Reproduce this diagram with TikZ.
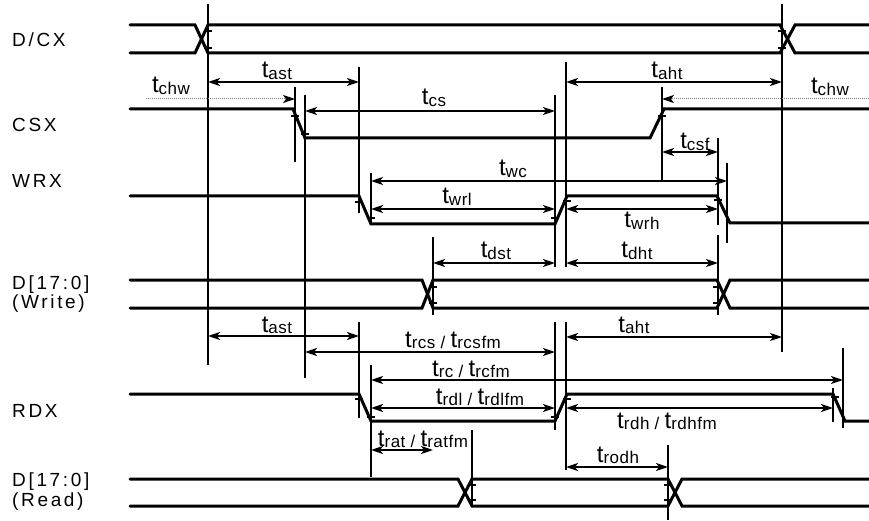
\documentclass[tikz,border=0pt]{standalone}
\usepackage{fontspec}
\setmainfont{Liberation Sans}
\newfontfamily\signame[LetterSpace=14]{Liberation Sans}
\newfontfamily\subname[LetterSpace=3]{Liberation Sans}
\usetikzlibrary{arrows.meta}

\newcommand{\tsub}[1]{{\fontsize{24}{24}\selectfont t}\raisebox{-1.5pt}{\fontsize{17}{17}\subname #1}}
\newcommand{\tor}{\raisebox{-1.5pt}{\fontsize{17}{17}\subname\ /\ }}

\begin{document}
\begin{tikzpicture}[x=1pt, y=-1pt,
                wave/.style={line width=3pt, line cap=round},
                guide/.style={line width=2pt},
                twoway/.style={line width=2pt, {Stealth[length=12pt,width=8pt,inset=3pt]}-{Stealth[length=12pt,width=8pt,inset=3pt]}},
                dotway/.style={line width=1pt, gray, densely dotted, -{Stealth[length=12pt,width=8pt,inset=3pt,black]}},
                tlab/.style={anchor=base, inner sep=0pt},
                slab/.style={anchor=base west, inner sep=0pt, font=\fontsize{19}{19}\signame},
                blab/.style={anchor=north west, inner sep=0pt, align=left}]
    \useasboundingbox (0,0) rectangle (869,521);

    % signal names
    \node[slab] (dcx) at (12,47) {D/CX};
    \node[slab] (csx) at (12,132) {CSX};
    \node[slab] (wrx) at (12,188) {WRX};
    \node[blab, font=\fontsize{19}{17}\signame] (dw) at (12,276) {D[17:0]\\(Write)};
    \node[slab] (rdx) at (12,417) {RDX};
    \node[blab, font=\fontsize{19}{20}\signame] (dr) at (12,473) {D[17:0]\\(Read)};

    % waveforms
    \draw[wave] (130,25) -- (195,25) -- (208,53) -- (780,53) -- (795,25) -- (869,25);
    \draw[wave] (130,53) -- (195,53) -- (208,25) -- (780,25) -- (795,53) -- (869,53);
    \draw[wave] (130,109) -- (293,109) -- (305,138) -- (650,138) -- (664,109) -- (869,109);
    \draw[wave] (130,196) -- (359,196) -- (371,224) -- (555,224) -- (567,196) -- (717,196) -- (730,223) -- (869,223);
    \draw[wave] (130,280) -- (422,280) -- (433,308) -- (717,308) -- (730,280) -- (869,280);
    \draw[wave] (130,308) -- (422,308) -- (433,280) -- (717,280) -- (730,308) -- (869,308);
    \draw[wave] (130,394) -- (359,394) -- (371,421) -- (555,421) -- (567,394) -- (833,394) -- (845,421) -- (869,421);
    \draw[wave] (130,479) -- (458,479) -- (472,506) -- (668,506) -- (682,479) -- (869,479);
    \draw[wave] (130,506) -- (458,506) -- (472,479) -- (668,479) -- (682,506) -- (869,506);

    % small marks on the edges
    \foreach \x/\y in {208/31, 208/48, 782/31, 782/48, 295/116, 305/134, 662/116,
                       359/202, 371/218, 555/218, 567/201, 718/200,
                       433/287, 433/303, 717/287, 717/303,
                       359/399, 371/417, 555/417, 567/399, 835/397,
                       472/485, 472/500, 668/485, 668/500}
        \draw[line width=1.5pt] (\x-4,\y) -- (\x+4,\y);

    % reference lines
    \foreach \x/\ya/\yb in {208/4/365, 295/87/162, 305/95/378, 359/67/213, 371/173/224,
                            555/95/267, 566/62/267, 662/87/180, 718/138/225, 727/163/243,
                            433/237/315, 718/235/315, 782/4/352,
                            359/322/418, 371/365/477, 555/322/430, 566/322/470,
                            843/348/428, 833/388/422, 472/430/506, 668/445/520}
        \draw[guide] (\x,\ya) -- (\x,\yb);

    % write cycle
    \draw[dotway] (146,99) -- (295,99);
    \node[tlab] (chw1) at (171,93) {\tsub{chw}};
    \draw[twoway] (208,82) -- (359,82);
    \node[tlab] (ast1) at (277,78) {\tsub{ast}};
    \draw[twoway] (305,111) -- (555,111);
    \node[tlab] (cs) at (434,105) {\tsub{cs}};
    \draw[twoway] (566,82) -- (782,82);
    \node[tlab] (aht1) at (667,78) {\tsub{aht}};
    \draw[dotway] (869,99) -- (662,99);
    \node[tlab] (chw2) at (830,94) {\tsub{chw}};
    \draw[twoway] (662,152) -- (718,152);
    \node[tlab] (csf) at (695,149) {\tsub{csf}};
    \draw[twoway] (371,181) -- (727,181);
    \node[tlab] (wc) at (513,176) {\tsub{wc}};
    \draw[twoway] (371,209) -- (555,209);
    \node[tlab] (wrl) at (457,204) {\tsub{wrl}};
    \draw[twoway] (566,209) -- (718,209);
    \node[tlab] (wrh) at (642,228) {\tsub{wrh}};
    \draw[twoway] (433,263) -- (555,263);
    \node[tlab] (dst) at (496,258) {\tsub{dst}};
    \draw[twoway] (566,263) -- (718,263);
    \node[tlab] (dht) at (637,258) {\tsub{dht}};

    % read cycle
    \draw[twoway] (208,336) -- (359,336);
    \node[tlab] (ast2) at (277,332) {\tsub{ast}};
    \draw[twoway] (305,352) -- (555,352);
    \node[tlab] (rcs) at (453,347) {\tsub{rcs}\tor\tsub{rcsfm}};
    \draw[twoway] (566,337) -- (782,337);
    \node[tlab] (aht2) at (634,332) {\tsub{aht}};
    \draw[twoway] (371,380) -- (843,380);
    \node[tlab] (rc) at (471,376) {\tsub{rc}\tor\tsub{rcfm}};
    \draw[twoway] (371,408) -- (555,408);
    \node[tlab] (rdl) at (480,404) {\tsub{rdl}\tor\tsub{rdlfm}};
    \draw[twoway] (566,408) -- (833,408);
    \node[tlab] (rdh) at (667,428) {\tsub{rdh}\tor\tsub{rdhfm}};
    \draw[twoway] (371,450) -- (433,450);
    \node[tlab] (rat) at (423,446) {\tsub{rat}\tor\tsub{ratfm}};
    \draw[twoway] (566,467) -- (668,467);
    \node[tlab] (rodh) at (618,462) {\tsub{rodh}};
\end{tikzpicture}
\end{document}
